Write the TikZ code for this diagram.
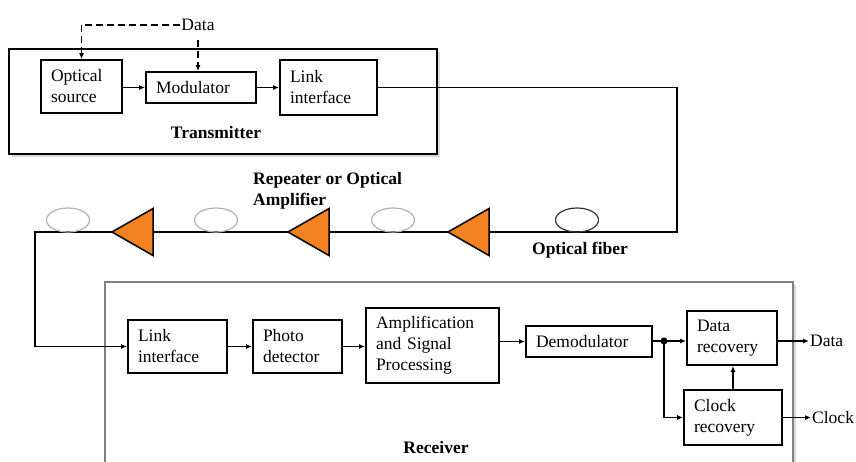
\documentclass[tikz,border=0pt]{standalone}
\usepackage{fontspec}
\setmainfont{Liberation Serif}
\usetikzlibrary{arrows.meta,shadows}
\definecolor{ampor}{HTML}{F28220}
\begin{document}
\begin{tikzpicture}[x=1pt,y=-1pt,
  every node/.style={font=\fontsize{17.5}{21}\selectfont},
  blk/.style={draw, line width=1.7pt, align=left, inner xsep=0pt, inner ysep=0pt, fill=white},
  frame/.style={draw, line width=1.7pt, fill=white, inner sep=0pt,
    drop shadow={shadow xshift=2.5pt, shadow yshift=-2.5pt, opacity=0.3}},
  lbl/.style={font=\fontsize{17.5}{21}\selectfont\bfseries, align=left, inner sep=0pt},
  tip/.style={-{Latex[length=6pt,width=5pt]}},
  wire/.style={line width=1.5pt},
  datadash/.style={line width=1.3pt, dash pattern=on 7pt off 4pt},
  repeater/.style={draw=black, line width=1.5pt, fill=ampor, line join=miter},
  coil/.style={line width=1.2pt, draw=gray!60},
]
\useasboundingbox (0,0) rectangle (856,461);

% transmitter and receiver frames
\node[frame, minimum width=428pt, minimum height=105pt] (tx) at (223,101.5) {};
\node[frame, draw=black!50, minimum width=688pt, minimum height=210pt] (rx) at (449,387) {};

% transmitter blocks
\node[blk, minimum width=81pt, minimum height=53pt, text width=61pt] (osrc) at (81.5,86.5) {Optical\\source};
\node[blk, minimum width=110pt, minimum height=31pt, text width=90pt] (mod) at (201,87.5) {Modulator};
\node[blk, minimum width=97pt, minimum height=55pt, text width=77pt] (tlink) at (328.5,87.5) {Link\\interface};
\node[lbl] (txl) at (216,133) {Transmitter};
\node[inner sep=1pt] (din) at (198,25) {Data};

\draw[datadash, tip] (din.west) -| (osrc.north);
\draw[datadash, tip] ([yshift=-8pt]din.south) -- (din.south |- mod.north);
\draw[wire, tip] (osrc.east |- mod.west) -- (mod.west);
\draw[wire, tip] (mod.east) -- (mod.east -| tlink.west);

% receiver blocks
\node[blk, minimum width=99pt, minimum height=53pt, text width=79pt] (rlink) at (177.5,346.5) {Link\\interface};
\node[blk, minimum width=89pt, minimum height=53pt, text width=69pt] (photo) at (297.5,346.5) {Photo\\detector};
\node[blk, minimum width=133pt, minimum height=75pt, text width=113pt] (amp) at (432.5,345.5) {Amplification\\and Signal\\Processing};
\node[blk, minimum width=126pt, minimum height=31pt, text width=106pt] (demod) at (589,341.5) {Demodulator};
\node[blk, minimum width=90pt, minimum height=54pt, text width=70pt] (drec) at (732,338) {Data\\recovery};
\node[blk, minimum width=98pt, minimum height=55pt, text width=78pt] (crec) at (733,417.5) {Clock\\recovery};
\node[lbl] (rxl) at (436,448) {Receiver};
\node[anchor=west, inner sep=1pt] (dout) at (809,341) {Data};
\node[anchor=west, inner sep=1pt] (cout) at (811,417.5) {Clock};
\coordinate (split) at (664,341);

\draw[wire, tip] (rlink.east) -- (photo.west);
\draw[wire, tip] (photo.east) -- (photo.east -| amp.west);
\draw[wire, tip] (amp.east |- demod.west) -- (demod.west);
\draw[wire] (demod.east |- split) -- (split);
\draw[wire, tip] (split) -- (split -| drec.west);
\draw[wire, tip] (split) |- (crec.west);
\draw[wire, tip] (crec.north) -- (crec.north |- drec.south);
\draw[wire, tip] (drec.east |- dout.west) -- (dout.west);
\draw[wire, tip] (crec.east) -- (cout.west);
\fill (split) circle (3.5pt);

% optical fiber link with repeaters
\coordinate (fc1) at (677,232);
\coordinate (fc2) at (35,232);
\draw[wire, tip] (tlink.east) -| (fc1) -- (fc2) |- (rlink.west);

\foreach \cx in {68,216,393} \draw[coil] (\cx,220) ellipse [x radius=21.5, y radius=12];
\draw[coil, draw=black!80] (577,220) ellipse [x radius=21.5, y radius=12];

\foreach \ax/\nm in {112/ra, 288/rb, 448/rc} {
  \coordinate (\nm) at (\ax,232);
  \filldraw[repeater] (\nm) -- ++(41,-23.5) -- ++(0,47) -- cycle;
}

\node[lbl, anchor=north west] (rptl) at (253,172) {Repeater or Optical\\Amplifier};
\node[lbl] (fibl) at (580,250) {Optical fiber};
\end{tikzpicture}
\end{document}
